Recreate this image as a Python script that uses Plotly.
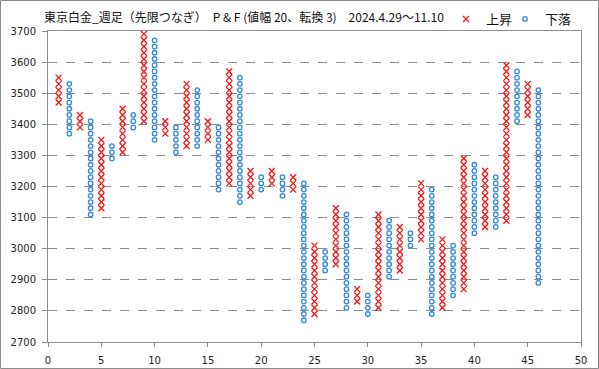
import plotly.graph_objects as go

# Point & Figure columns (box size 20, reversal 3)
col_no = list(range(1, 47))
col_kind = ["X", "O"] * 23
col_low = [3470, 3370, 3390, 3110, 3130, 3290, 3310, 3390, 3410, 3350,
           3370, 3310, 3330, 3330, 3350, 3190, 3210, 3150, 3170, 3190,
           3210, 3170, 3190, 2770, 2790, 2930, 2950, 2810, 2830, 2790,
           2810, 2910, 2930, 3010, 3030, 2790, 2810, 2850, 2870, 3050,
           3070, 3070, 3090, 3410, 3430, 2890]
col_high = [3550, 3530, 3430, 3410, 3350, 3330, 3450, 3430, 3690, 3670,
            3410, 3390, 3530, 3510, 3410, 3390, 3570, 3550, 3250, 3230,
            3250, 3230, 3230, 3210, 3010, 2990, 3130, 3110, 2870, 2850,
            3110, 3090, 3070, 3050, 3210, 3190, 3030, 3010, 3290, 3270,
            3250, 3230, 3590, 3570, 3530, 3510]
box_size = 20

title_text = "東京白金_週足（先限つなぎ）　P & F (値幅 20、転換 3)　2024.4.29～11.10"
x_ticks = [0, 5, 10, 15, 20, 25, 30, 35, 40, 45, 50]
y_ticks = [2700, 2800, 2900, 3000, 3100, 3200, 3300, 3400, 3500, 3600, 3700]

xs_up, ys_up, xs_dn, ys_dn = [], [], [], []
for n, k, lo, hi in zip(col_no, col_kind, col_low, col_high):
    v = lo
    while v <= hi:
        if k == "X":
            xs_up.append(n); ys_up.append(v)
        else:
            xs_dn.append(n); ys_dn.append(v)
        v += box_size

W, H = 599, 369
L, R, T, B = 48, 18, 31, 27
pw, ph = W - L - R, H - T - B

fig = go.Figure()
fig.add_trace(go.Scatter(
    x=xs_up, y=ys_up, mode="markers", name="上昇", legend="legend",
    marker=dict(symbol="x-thin", size=6, line=dict(color="#FF1010", width=1.3), color="#FF1010"),
))
fig.add_trace(go.Scatter(
    x=xs_dn, y=ys_dn, mode="markers", name="下落", legend="legend2",
    marker=dict(symbol="circle-open", size=4.5, line=dict(color="#3089DA", width=1.3), color="#3089DA"),
))

legend_common = dict(orientation="h", xanchor="left", y=1 + 12 / ph, yanchor="middle",
                     font=dict(family="Noto Sans CJK JP", size=13, color="#111"),
                     bgcolor="rgba(0,0,0,0)", itemwidth=30)

axis_col = "#8C8C8C"
fig.update_layout(
    width=W, height=H,
    margin=dict(l=L, r=R, t=T, b=B, autoexpand=False),
    paper_bgcolor="white", plot_bgcolor="white",
    font=dict(family="Noto Sans CJK JP, DejaVu Sans, sans-serif", size=12, color="#111"),
    title=dict(text=title_text, x=44 / W, xref="container", xanchor="left",
               y=1 - 18 / H, yref="container", yanchor="middle",
               font=dict(family="Noto Sans CJK JP", size=12, color="#111")),
    showlegend=True,
    legend=dict(x=(446 - L) / pw, **legend_common),
    legend2=dict(x=(505 - L) / pw, **legend_common),
    xaxis=dict(range=[0, 50], tickvals=x_ticks, ticks="outside", ticklen=4,
               tickcolor=axis_col, showgrid=False, zeroline=False,
               showline=True, linecolor=axis_col, linewidth=1, mirror=True,
               ticklabelstandoff=5,
               tickfont=dict(family="DejaVu Sans", size=10, color="#222")),
    yaxis=dict(range=[2700, 3700], tickvals=y_ticks, ticks="outside", ticklen=5,
               tickcolor=axis_col, showgrid=True, gridcolor="#8C8C8C", griddash="dash",
               gridwidth=1, zeroline=False, showline=True, linecolor=axis_col,
               linewidth=1, mirror=True, ticklabelstandoff=4,
               tickfont=dict(family="DejaVu Sans", size=10, color="#222")),
    shapes=[dict(type="rect", xref="paper", yref="paper",
                 x0=(0.5 - L) / pw, x1=(W - 0.5 - L) / pw,
                 y0=(H - B - (H - 0.5)) / ph, y1=(H - B - 0.5) / ph,
                 line=dict(color="#8C8C8C", width=1), fillcolor="rgba(0,0,0,0)",
                 layer="below")],
)

fig.write_html("out.html", config={"displayModeBar": False},
               post_script="document.body.style.margin='0';document.body.style.overflow='hidden';")
